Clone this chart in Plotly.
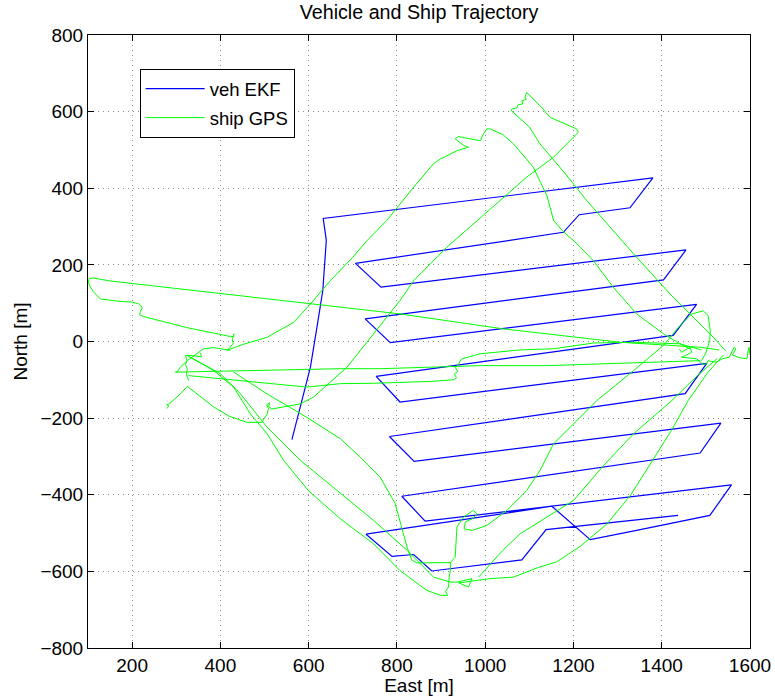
import plotly.graph_objects as go

# ---------------- data (East [m], North [m]) ----------------
veh_east = [562, 581, 604, 620, 632, 640, 633, 1380, 1328, 1213, 1177, 706, 764, 1455, 1404,
            728, 785, 1479, 1426, 753, 807, 1502, 1453, 783, 839, 1534, 1487, 811, 864, 1558,
            1509, 1343, 1238, 1151, 730, 789, 838, 879, 1083, 1138, 1437]
veh_north = [-256, -171, -67, 46, 133, 264, 321, 427, 349, 331, 285, 204, 142, 239, 161,
             59, -3, 97, 16, -91, -158, -57, -136, -248, -313, -213, -291, -404, -469, -374,
             -454, -493, -517, -430, -503, -561, -556, -599, -570, -491, -454]

# ship GPS track, read as separate strokes
seg1_e = [1530, 1487, 1306, 1041, 807, 500, 300, 150, 110, 103, 101, 104, 112, 128, 170, 200,
          215, 223, 219, 217, 226, 325, 423, 429, 431, 427, 429, 426, 420, 415]
seg1_n = [-22, -15, -2, 33, 72, 113, 139, 158, 166, 164, 155, 145, 130, 111, 105, 103,
          98, 89, 78, 70, 65, 36, 13, 13, 20, 5, -5, -10, -18, -23]

seg2_e = [415, 450, 506, 566, 604, 650, 700, 732, 777, 838, 883, 898, 936, 962, 951, 932, 939,
          989, 996, 1004, 1011, 1040, 1064, 1109, 1140, 1155, 1174, 1208, 1245, 1290, 1343,
          1404, 1440, 1465]
seg2_n = [-23, -8, 11, 50, 98, 160, 220, 263, 316, 403, 464, 476, 498, 507, 512, 529, 535,
          524, 542, 555, 555, 540, 516, 455, 380, 316, 290, 255, 211, 142, 72,
          20, -5, -20]

seg3_e = [1487, 1300, 1140, 989, 762, 672, 438, 330, 298, 302, 309, 325, 345, 362, 385, 423]
seg3_n = [-50, -57, -63, -63, -71, -71, -76, -79, -80, -80, -67, -50, -33, -19, -16, -23]

seg4_e = [328, 400, 596, 672, 747, 880, 928, 935, 930, 938, 932, 940, 943, 948, 989, 1079,
          1155, 1245, 1336, 1441, 1468, 1490]
seg4_n = [-89, -97, -119, -110, -109, -104, -100, -95, -85, -78, -68, -60, -50, -45, -32, -22,
          -19, -4, -2, -6, -15, -22]

seg5_e = [355, 357, 345, 330, 321, 324, 321, 325, 323, 326, 328]
seg5_n = [-30, -40, -38, -37, -36, -50, -60, -72, -85, -95, -102]

seg6_e = [325, 385, 430, 468, 506, 543, 600, 672, 747, 807, 868, 898, 915, 910, 917, 918, 921, 921]
seg6_n = [-37, -76, -119, -189, -241, -310, -390, -463, -528, -598, -650, -662, -663, -652,
          -641, -620, -597, -577]

seg7_e = [332, 400, 445, 506, 581, 672, 747, 823, 883, 921, 936, 970, 962, 940, 975, 1011,
          1064, 1120, 1162, 1215, 1276, 1330, 1374, 1423, 1460, 1505, 1540]
seg7_n = [-41, -84, -136, -224, -310, -397, -467, -545, -615, -628, -628, -619, -641, -630,
          -625, -619, -615, -590, -575, -535, -476, -400, -320, -230, -154, -80, -35]

seg8_e = [430, 506, 596, 672, 717, 762, 796, 811, 823, 834, 845, 921, 932, 936, 951, 973, 982,
          970, 955, 952, 970, 1004, 1049, 1094, 1124, 1155, 1253, 1336, 1404, 1440, 1468, 1494,
          1505, 1510, 1509, 1500, 1490]
seg8_n = [-80, -137, -198, -254, -302, -354, -423, -484, -537, -571, -578, -577, -563, -484,
          -458, -441, -450, -463, -471, -489, -493, -480, -441, -389, -337, -267, -154, -76,
          -10, 40, 72, 80, 68, 30, 3, -30, -50]

seg9_e = [985, 1040, 1079, 1200, 1268, 1336, 1423, 1480, 1525]
seg9_n = [-615, -545, -502, -415, -324, -241, -154, -90, -45]

seg10_e = [279, 283, 278, 285, 292, 300, 310, 325, 350, 385, 420, 460, 494, 506, 509, 505, 512,
           509, 517, 581, 611, 687, 807, 838, 913, 973, 1034, 1094, 1155, 1200, 1211, 1207, 1175,
           1147, 1128, 1094, 1090, 1093, 1083, 1085, 1075, 1072, 1062, 1058, 1100, 1124, 1180,
           1230, 1336, 1419, 1517, 1545]
seg10_n = [-175, -168, -165, -162, -155, -147, -136, -117, -140, -171, -195, -211, -211, -189,
           -175, -165, -160, -170, -176, -163, -145, -67, 107, 159, 246, 307, 368, 429, 481,
           533, 546, 555, 570, 585, 611, 650, 638, 632, 628, 620, 618, 610, 607, 604, 560, 516,
           440, 368, 229, 124, 11, -25]

seg11_e = [1440, 1445, 1464, 1468, 1453, 1445, 1479, 1494, 1502, 1505, 1523, 1538, 1553, 1564,
           1568, 1560, 1575, 1593, 1596, 1598, 1600]
seg11_n = [-20, -28, -15, -28, -37, -41, -45, -60, -58, -50, -54, -45, -41, -15, -19, -35, -42,
           -45, -23, -15, -35]

ship_segments = [(seg1_e, seg1_n), (seg2_e, seg2_n), (seg3_e, seg3_n), (seg4_e, seg4_n),
                 (seg5_e, seg5_n), (seg6_e, seg6_n), (seg7_e, seg7_n), (seg8_e, seg8_n),
                 (seg9_e, seg9_n), (seg10_e, seg10_n), (seg11_e, seg11_n)]

x_ticks = [200, 400, 600, 800, 1000, 1200, 1400, 1600]
y_ticks = [-800, -600, -400, -200, 0, 200, 400, 600, 800]

# ---------------- figure ----------------
ship_e, ship_n = [], []
for e, n in ship_segments:
    ship_e += e + [None]
    ship_n += n + [None]

FONT = "Liberation Sans, Arial, Helvetica, sans-serif"
FS = 19

fig = go.Figure()
fig.add_trace(go.Scatter(x=veh_east, y=veh_north, mode="lines", name="veh EKF",
                         line=dict(color="#0000ff", width=1.2), legendgroup="veh"))
fig.add_trace(go.Scatter(x=ship_e, y=ship_n, mode="lines", name="ship GPS",
                         line=dict(color="#00ff00", width=1), legendgroup="ship",
                         connectgaps=False))

axis_common = dict(showline=True, linecolor="black", linewidth=1, mirror="ticks",
                   ticks="inside", ticklen=6, tickcolor="black", showgrid=True,
                   gridcolor="#8a8a8a", griddash="1px,4px", gridwidth=1, zeroline=False,
                   automargin=False,
                   tickfont=dict(size=FS, family=FONT, color="black"))

fig.update_layout(
    width=775, height=696,
    margin=dict(l=88, r=25, t=35, b=48),
    paper_bgcolor="white", plot_bgcolor="white",
    font=dict(family=FONT, size=FS, color="black"),
    title=dict(text="Vehicle and Ship Trajectory", x=0.5, xref="paper", xanchor="center",
               y=1 - 12 / 696, yref="container", yanchor="middle",
               font=dict(size=19.7, family=FONT, color="black")),
    xaxis=dict(range=[100, 1600], tickvals=x_ticks,
               title=dict(text="East [m]", font=dict(size=FS), standoff=6), **axis_common),
    yaxis=dict(range=[-800, 800], tickvals=y_ticks,
               title=dict(text="North [m]", font=dict(size=FS), standoff=7), **axis_common),
    legend=dict(x=0.078, y=0.9445, xanchor="left", yanchor="top", bgcolor="white",
                bordercolor="black", borderwidth=1, tracegroupgap=2, traceorder="grouped",
                itemwidth=59, font=dict(size=18.5, family=FONT, color="black")),
    showlegend=True,
)

fig.write_html("out.html", config={"displayModeBar": False},
               post_script="document.body.style.margin='0px';")
